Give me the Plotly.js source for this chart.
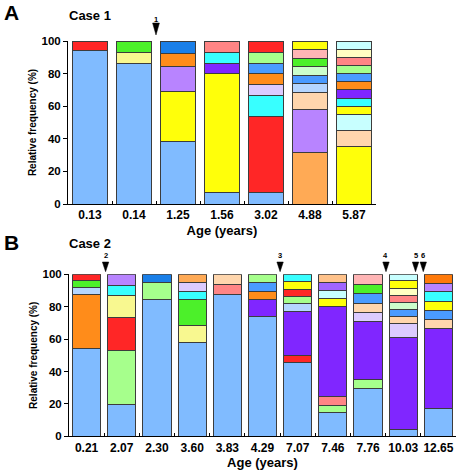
<!DOCTYPE html>
<html><head><meta charset="utf-8">
<script src="https://cdn.plot.ly/plotly-3.0.1.min.js"></script>
<style>html,body{margin:0;padding:0;background:#fff}#chart{width:457px;height:473px}</style>
</head><body><div id="chart"></div>
<script>
// ---------- DATA ----------
const case1Ages = ['0.13','0.14','1.25','1.56','3.02','4.88','5.87'];
// segment sizes (%), bottom to top, per sample
const case1Segments = [
  [94, 6],
  [86, 7, 7],
  [38.5, 30.5, 15.5, 7.7, 7.8],
  [7, 73, 6.5, 6.5, 7],
  [7, 46.4, 13.3, 6.5, 6.8, 6.5, 6.5, 7],
  [31.7, 26.3, 10.5, 5.3, 5.2, 5.2, 5.2, 5.1, 5.5],
  [35.4, 9.8, 9.8, 5, 4.8, 5.2, 5, 5, 5, 5, 5, 5]
];
const case1Colors = [
  ['lightBlue','red'],
  ['lightBlue','paleYellow','green'],
  ['lightBlue','yellow','lavender','orange','darkBlue'],
  ['lightBlue','yellow','purple','cyan','salmon'],
  ['lightBlue','red','cyan','lightLavender','orange','blue','lightGreen','red'],
  ['sandy','lavender','peach','skyBlue','blue','paleGreen','green','pink','yellow'],
  ['yellow','peach','lightCyan','yellow','cyan','purple','orange','blue','lightGreen','salmon','cream','lightCyan']
];
const case1EventLabels = ['1'];
const case1EventPos = [1.5];

const case2Ages = ['0.21','2.07','2.30','3.60','3.83','4.29','7.07','7.46','7.76','10.03','12.65'];
const case2Segments = [
  [54.3, 33.4, 4.3, 3.9, 4.1],
  [19.8, 33.2, 20.5, 13.3, 6.4, 6.8],
  [84.2, 10.8, 5],
  [58, 10.5, 15.7, 5.3, 5.4, 5.1],
  [87.7, 6.1, 6.2],
  [73.7, 10.5, 5.1, 5.6, 5.1],
  [45.5, 4.5, 27.2, 4.5, 4.7, 4.3, 4.6, 4.7],
  [14.6, 4.7, 5.2, 55.7, 4.8, 5.1, 4.9, 5],
  [29.6, 5.4, 35.6, 5.7, 5.8, 6.2, 5.7, 6],
  [4.5, 56.6, 8.4, 4.4, 4.5, 4.3, 4.3, 4.4, 4.5, 4.1],
  [16.9, 49.8, 5.3, 5.8, 5.3, 6, 5.3, 5.6]
];
const case2Colors = [
  ['lightBlue','orange','skyBlue','green','red'],
  ['lightBlue','lightGreen','red','paleYellow','cyan','lavender'],
  ['lightBlue','lightGreen','darkBlue'],
  ['lightBlue','paleYellow','green','cyan','lightLavender','sandy'],
  ['lightBlue','salmon','peach'],
  ['lightBlue','purple','orange','blue','lightGreen'],
  ['lightBlue','red','purple','skyBlue','lightGreen','red','yellow','cyan'],
  ['lightBlue','lightGreen','salmon','purple','yellow','lightCyan','violet','sandyLight'],
  ['lightBlue','lightGreen','purple','lightLavender','peach','blue','green','pink'],
  ['lightBlue','purple','lightLavender','peach','blue','paleGreen','salmon','cream','yellow','lightCyan'],
  ['lightBlue','purple','peach','blue','yellow','cyan','lavender','darkOrange']
];
const case2EventLabels = ['2','3','4','5','6'];
const case2EventPos = [0.54, 5.5, 8.51, 9.35, 9.57];

// ---------- STYLE ----------
const PALETTE = {
  lightBlue:'#80BBFF', red:'#FF2626', green:'#4CF02A', paleYellow:'#F8F890',
  darkBlue:'#1A7FE8', orange:'#FF8C1A', lavender:'#B884FF', yellow:'#FFFF0A',
  salmon:'#FF8585', cyan:'#38FFFF', purple:'#8026FF', lightLavender:'#DCCBFF',
  sandy:'#FFAA55', peach:'#FFD6AD', skyBlue:'#B5D6FF', paleGreen:'#CCFFCC',
  lightGreen:'#A6FF8C', blue:'#4A9BFF', pink:'#FFB5B5', lightCyan:'#C8FFFF',
  cream:'#FFFFC2', violet:'#A065FF', sandyLight:'#FFC28A', darkOrange:'#FF7A0A'
};
const W = 457, H = 473;
const FONT = 'Liberation Sans, Arial, sans-serif';
const pxX = p => p / W;
const pxY = p => (H - p) / H;

const panels = [
  {ages: case1Ages, segs: case1Segments, cols: case1Colors, xa: 'x', ya: 'y',
   xDom: [pxX(68), pxX(376)], yDom: [pxY(204), pxY(41)],
   evLabels: case1EventLabels, evPos: case1EventPos,
   tri: {hw: 3.4, apex: 6, top: 18, label: 22},
   letter: 'A', caseText: 'Case 1', letterY: 13, caseY: 15},
  {ages: case2Ages, segs: case2Segments, cols: case2Colors, xa: 'x2', ya: 'y2',
   xDom: [pxX(69), pxX(456)], yDom: [pxY(436.3), pxY(274.3)],
   evLabels: case2EventLabels, evPos: case2EventPos,
   tri: {hw: 3.2, apex: 2.6, top: 12.3, label: 19.3},
   letter: 'B', caseText: 'Case 2', letterY: 242.5, caseY: 243}
];

const traces = [];
const shapes = [];
const annotations = [];
const layout = {
  width: W, height: H, margin: {l:0, r:0, t:0, b:0},
  paper_bgcolor: '#fff', plot_bgcolor: '#fff',
  barmode: 'stack', showlegend: false,
  font: {family: FONT, color: '#000'},
  shapes, annotations
};

panels.forEach((p, pi) => {
  const maxLen = Math.max(...p.segs.map(s => s.length));
  for (let k = 0; k < maxLen; k++) {
    traces.push({
      type: 'bar', x: p.ages,
      y: p.segs.map(s => k < s.length ? s[k] : null),
      marker: {color: p.cols.map(c => k < c.length ? PALETTE[c[k]] : '#fff'),
               line: {color: '#3c3c3c', width: 1}},
      xaxis: p.xa, yaxis: p.ya, hoverinfo: 'skip', showlegend: false
    });
  }
  const sfx = pi === 0 ? '' : '2';
  layout['xaxis' + sfx] = {
    domain: p.xDom, anchor: p.ya, type: 'category', tickangle: 0,
    showline: true, linecolor: '#000', linewidth: 1, mirror: false,
    ticks: 'inside', tickson: 'boundaries', ticklen: 3, tickcolor: '#000', tickwidth: 1,
    tickfont: {family: FONT, size: 12, weight: 'bold', color: '#000'},
    showgrid: false, zeroline: false, fixedrange: true,
    title: {text: 'Age (years)', font: {family: FONT, size: 13, weight: 'bold', color: '#000'}, standoff: 4}
  };
  layout['yaxis' + sfx] = {
    domain: p.yDom, anchor: p.xa, range: [0, 100], dtick: 20, tick0: 0,
    showline: true, linecolor: '#000', linewidth: 1,
    ticks: 'outside', ticklen: 4, tickcolor: '#000', tickwidth: 1,
    tickfont: {family: FONT, size: 11.5, weight: 'bold', color: '#000'},
    showgrid: false, zeroline: false, fixedrange: true,
    title: {text: 'Relative frequency (%)', font: {family: FONT, size: 10, weight: 'bold', color: '#000'}, standoff: 3}
  };
  // event arrows
  const n = p.ages.length;
  const topPx = (1 - p.yDom[1]) * H;
  p.evPos.forEach((pos, i) => {
    const cx = (p.xDom[0] + (pos + 0.5) / n * (p.xDom[1] - p.xDom[0])) * W;
    const apexY = pxY(topPx - p.tri.apex), topY = pxY(topPx - p.tri.top);
    const l = pxX(cx - p.tri.hw), r = pxX(cx + p.tri.hw), c = pxX(cx);
    shapes.push({type: 'path', xref: 'paper', yref: 'paper',
      path: `M ${l},${topY} L ${r},${topY} L ${c},${apexY} Z`,
      fillcolor: '#000', line: {color: '#000', width: 0.5}});
    annotations.push({xref: 'paper', yref: 'paper', x: c, y: pxY(topPx - p.tri.label),
      text: p.evLabels[i], showarrow: false, xanchor: 'center', yanchor: 'middle',
      font: {family: FONT, size: 7.5, weight: 'bold', color: '#000'}});
  });
  annotations.push({xref: 'paper', yref: 'paper', x: pxX(2), y: pxY(p.letterY),
    text: p.letter, showarrow: false, xanchor: 'left', yanchor: 'middle',
    font: {family: FONT, size: 21, weight: 'bold', color: '#000'}});
  annotations.push({xref: 'paper', yref: 'paper', x: pxX(67), y: pxY(p.caseY),
    text: p.caseText, showarrow: false, xanchor: 'left', yanchor: 'middle',
    font: {family: FONT, size: 13, weight: 'bold', color: '#000'}});
});

Plotly.newPlot('chart', traces, layout, {staticPlot: true, displayModeBar: false});
</script>
</body></html>
